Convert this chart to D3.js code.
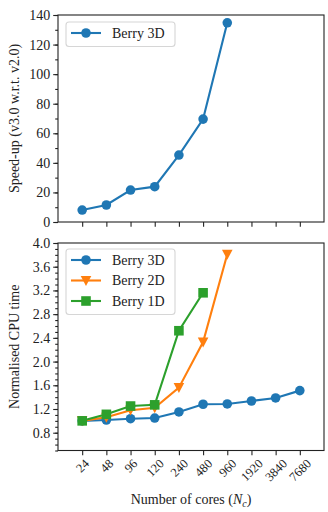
<!DOCTYPE html>
<html>
<head>
<meta charset="utf-8">
<script src="https://cdn.jsdelivr.net/npm/d3@7"></script>
<style>
  body { margin: 0; background: #fff; }
  svg text { font-family: "Liberation Serif", "DejaVu Serif", serif; fill: #222; }
</style>
</head>
<body>
<script>
// ---- data ----
var cores = ["24", "48", "96", "120", "240", "480", "960", "1920", "3840", "7680"];
var speedup3D = [8.1, 11.5, 21.6, 23.9, 45.3, 69.6, 134.7];
var cpu3D = [1.0, 1.014, 1.036, 1.047, 1.15, 1.28, 1.285, 1.335, 1.386, 1.51];
var cpu2D = [1.0, 1.06, 1.18, 1.22, 1.56, 2.33, 3.81];
var cpu1D = [1.0, 1.11, 1.25, 1.27, 2.52, 3.16];
var topTicks = [0, 20, 40, 60, 80, 100, 120, 140];
var botTicks = [0.8, 1.2, 1.6, 2.0, 2.4, 2.8, 3.2, 3.6, 4.0];

var W = 328, H = 512;
var left = 58, right = 324;
var top1 = 15, bot1 = 222, top2 = 243, bot2 = 450.5;
var fs = 14;

var svg = d3.select("body").append("svg")
  .attr("width", W).attr("height", H);

// shared categorical x, xlim (-1, 10)
var x = d3.scaleLinear().domain([-1, 10]).range([left, right]);
var y1 = d3.scaleLinear().domain([0, 140]).range([bot1, top1]);
var y2 = d3.scaleLinear().domain([0.5, 4.0]).range([bot2, top2]);

var colors = { "3D": "#1f77b4", "2D": "#ff7f0e", "1D": "#2ca02c" };

function drawAxes(g, y, yTicks, yMinor, fmt, yTop, yBot, xLabels) {
  // y minor ticks
  g.append("g").attr("transform", "translate(" + left + ",0)")
    .call(d3.axisLeft(y).tickValues(yMinor).tickSize(2.8).tickFormat(""))
    .call(function(a) { a.select(".domain").remove(); });
  // y major
  var ya = g.append("g").attr("transform", "translate(" + left + ",0)")
    .call(d3.axisLeft(y).tickValues(yTicks).tickSize(4.8).tickPadding(3).tickFormat(fmt));
  ya.select(".domain").remove();
  ya.selectAll("text").style("font-size", fs + "px").attr("font-family", null);
  // x ticks
  var xa = g.append("g").attr("transform", "translate(0," + yBot + ")")
    .call(d3.axisBottom(x).tickValues(d3.range(cores.length)).tickSize(4.8)
      .tickFormat(function(i) { return xLabels ? cores[i] : ""; }));
  xa.select(".domain").remove();
  g.selectAll(".tick line").attr("stroke", "#222").attr("stroke-width", 1.1);
  if (xLabels) {
    xa.selectAll("text").each(function(i) {
      var t = d3.select(this);
      t.style("font-size", "12.5px").attr("y", null).attr("dy", null)
        .attr("dominant-baseline", "central").attr("text-anchor", "middle");
      var w = this.getComputedTextLength();
      var h = 8.5;
      var half = (w + h) / (2 * Math.SQRT2);
      t.attr("transform", "translate(0," + (5 + 3 + half) + ") rotate(-45)");
    });
  }
  // frame
  g.append("rect").attr("x", left).attr("y", yTop)
    .attr("width", right - left).attr("height", yBot - yTop)
    .attr("fill", "none").attr("stroke", "#222").attr("stroke-width", 1.1);
}

function drawSeries(g, y, vals, key, shape) {
  var line = d3.line().x(function(d, i) { return x(i); }).y(function(d) { return y(d); });
  g.append("path").datum(vals).attr("d", line)
    .attr("fill", "none").attr("stroke", colors[key]).attr("stroke-width", 2.1);
  g.selectAll(".m" + key).data(vals).enter()
    .append("path").attr("class", "m" + key)
    .attr("transform", function(d, i) { return "translate(" + x(i) + "," + y(d) + ")"; })
    .attr("d", marker(shape))
    .attr("fill", colors[key]);
}

function marker(shape) {
  if (shape === "circle") return d3.symbol(d3.symbolCircle, 72)();
  if (shape === "square") return "M-4.8,-4.8H4.8V4.8H-4.8Z";
  // downward triangle
  return "M-5.3,-4.6H5.3L0,5.4Z";
}

function legend(g, x0, y0, w, entries) {
  var rowH = 20.5;
  var h = entries.length * rowH + 4;
  g.append("rect").attr("x", x0).attr("y", y0).attr("width", w).attr("height", h)
    .attr("rx", 3).attr("fill", "#fff").attr("fill-opacity", 0.8)
    .attr("stroke", "#d6d6d6").attr("stroke-width", 1.1);
  entries.forEach(function(e, i) {
    var cy = y0 + 11 + i * rowH;
    g.append("line").attr("x1", x0 + 5).attr("x2", x0 + 35).attr("y1", cy).attr("y2", cy)
      .attr("stroke", colors[e.key]).attr("stroke-width", 2.1);
    g.append("path").attr("transform", "translate(" + (x0 + 20) + "," + cy + ")")
      .attr("d", marker(e.shape)).attr("fill", colors[e.key]);
    g.append("text").attr("x", x0 + 46).attr("y", cy).attr("dy", "0.35em")
      .style("font-size", fs + "px").text(e.label);
  });
}

// ---- top panel: speed-up ----
var g1 = svg.append("g");
drawAxes(g1, y1, topTicks, d3.range(0, 141, 10), d3.format("d"), top1, bot1, false);
drawSeries(g1, y1, speedup3D, "3D", "circle");
legend(g1, 66, 22, 109, [{ key: "3D", shape: "circle", label: "Berry 3D" }]);

g1.append("text")
  .attr("transform", "translate(19," + ((top1 + bot1) / 2) + ") rotate(-90)")
  .attr("text-anchor", "middle").style("font-size", fs + "px")
  .text("Speed-up (v3.0 w.r.t. v2.0)");

// ---- bottom panel: normalised CPU time ----
var g2 = svg.append("g");
drawAxes(g2, y2, botTicks, d3.range(5, 41).map(function(d) { return d / 10; }),
  d3.format(".1f"), top2, bot2, true);
drawSeries(g2, y2, cpu3D, "3D", "circle");
drawSeries(g2, y2, cpu2D, "2D", "tri");
drawSeries(g2, y2, cpu1D, "1D", "square");
legend(g2, 66, 249, 109, [
  { key: "3D", shape: "circle", label: "Berry 3D" },
  { key: "2D", shape: "tri", label: "Berry 2D" },
  { key: "1D", shape: "square", label: "Berry 1D" }
]);

g2.append("text")
  .attr("transform", "translate(19," + ((top2 + bot2) / 2) + ") rotate(-90)")
  .attr("text-anchor", "middle").style("font-size", fs + "px")
  .text("Normalised CPU time");

var xl = svg.append("text")
  .attr("x", (left + right) / 2).attr("y", 504)
  .attr("text-anchor", "middle").style("font-size", fs + "px");
xl.append("tspan").text("Number of cores (");
xl.append("tspan").attr("font-style", "italic").text("N");
xl.append("tspan").attr("font-style", "italic").attr("dy", 3).style("font-size", "10px").text("c");
xl.append("tspan").attr("dy", -3).text(")");
</script>
</body>
</html>
